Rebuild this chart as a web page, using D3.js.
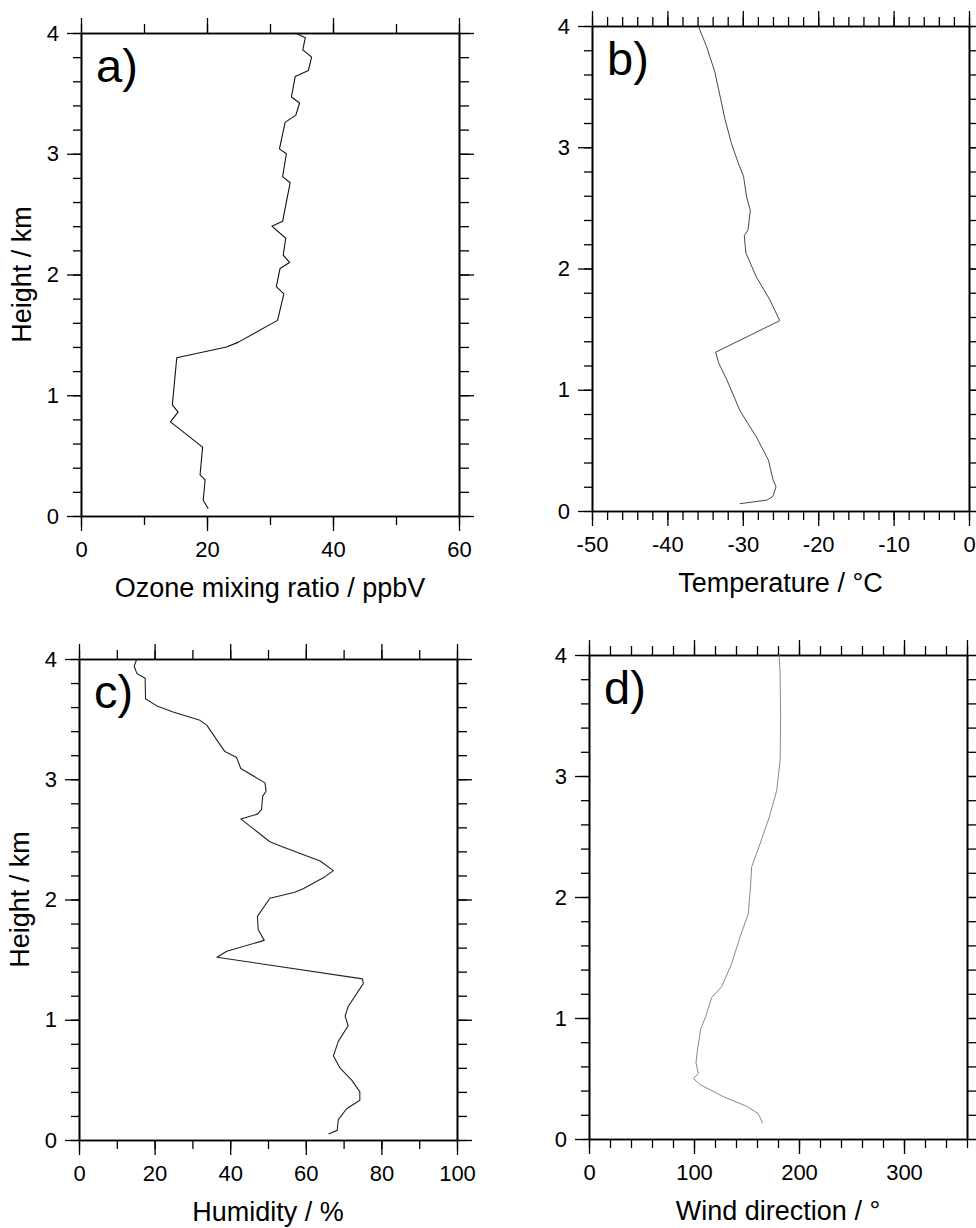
<!DOCTYPE html>
<html>
<head>
<meta charset="utf-8">
<script src="https://cdn.jsdelivr.net/npm/d3@7"></script>
<style>
	body { margin: 0; background: #fff; }
	svg { display: block; font-family: "Liberation Sans", Arial, Helvetica, sans-serif; }
	.domain { stroke: #000; stroke-width: 1.6; }
	.tick line { stroke: #000; stroke-width: 1.3; }
	.tick text { fill: #000; }
</style>
</head>
<body>
<script>

// a) ozone
var ozoneHeight = [4.00, 3.96, 3.86, 3.80, 3.69, 3.64, 3.47, 3.42, 3.32, 3.26, 3.04, 3.00, 2.81, 2.76, 2.44, 2.40, 2.30,
	2.16, 2.10, 2.05, 1.90, 1.84, 1.62, 1.44, 1.40, 1.31, 0.92, 0.86, 0.78, 0.57, 0.34, 0.30, 0.13, 0.06];
var ozoneValue = [34.0, 35.6, 35.2, 36.6, 36.1, 34.0, 33.4, 34.7, 34.1, 32.4, 31.5, 32.6, 32.0, 33.2, 32.0, 30.3, 32.5,
	32.1, 33.1, 31.6, 31.0, 32.2, 31.2, 25.0, 23.1, 15.2, 14.5, 15.4, 14.2, 19.3, 18.9, 19.7, 19.4, 20.2];

// b) temperature
var tempHeight = [4.00, 3.83, 3.62, 3.53, 3.36, 3.24, 3.03, 2.87, 2.76, 2.59, 2.48, 2.32, 2.27, 2.13, 1.93, 1.74, 1.57,
	1.45, 1.31, 1.22, 1.08, 0.83, 0.61, 0.42, 0.26, 0.20, 0.12, 0.09, 0.06];
var tempValue = [-35.9, -34.8, -33.7, -33.4, -32.8, -32.4, -31.5, -30.6, -29.9, -29.5, -29.0, -29.3, -29.8, -29.6, -28.2, -26.4, -25.1,
	-29.0, -33.6, -33.2, -32.1, -30.4, -28.2, -26.6, -26.0, -25.6, -26.0, -26.8, -30.4];

// c) humidity
var humHeight = [4.00, 3.94, 3.88, 3.84, 3.67, 3.61, 3.56, 3.49, 3.45, 3.33, 3.23, 3.18, 3.09, 2.97, 2.90, 2.86, 2.75,
	2.71, 2.67, 2.48, 2.44, 2.32, 2.24, 2.19, 2.09, 2.06, 2.01, 1.86, 1.75, 1.66, 1.57, 1.52, 1.34, 1.30,
	1.11, 1.03, 0.95, 0.82, 0.70, 0.60, 0.50, 0.40, 0.33, 0.26, 0.17, 0.08, 0.05];
var humValue = [15.3, 14.6, 15.3, 17.5, 17.6, 20.6, 24.9, 32.0, 33.8, 36.4, 38.6, 41.7, 42.8, 49.2, 49.5, 48.6, 48.3,
	47.2, 42.8, 50.5, 53.6, 63.8, 67.3, 65.1, 59.3, 57.1, 50.5, 47.2, 47.4, 49.0, 39.1, 36.5, 75.0, 75.2,
	71.2, 70.4, 71.2, 68.6, 67.3, 69.0, 72.1, 74.3, 74.3, 70.8, 68.6, 68.3, 66.0];

// d) wind direction
var windHeight = [4.00, 3.85, 3.49, 3.13, 2.88, 2.66, 2.44, 2.25, 2.11, 1.86, 1.67, 1.45, 1.26, 1.17, 1.01, 0.91,
	0.73, 0.63, 0.54, 0.50, 0.45, 0.35, 0.27, 0.21, 0.13];
var windValue = [181.0, 182.0, 182.5, 182.0, 178.8, 171.7, 162.9, 154.9, 154.0, 151.7, 143.8, 135.9, 126.4, 116.9, 111.0, 106.4,
	103.2, 101.9, 104.1, 99.4, 105.7, 127.9, 150.2, 161.2, 165.4];

var heightTicks = [0, 1, 2, 3, 4];
var ozoneTicks = [0, 20, 40, 60];
var tempTicks = [-50, -40, -30, -20, -10, 0];
var humTicks = [0, 20, 40, 60, 80, 100];
var windTicks = [0, 100, 200, 300];


var CHART = (function(CHART, d3, undefined)
{

	var svg = d3.select("body").append("svg")
		.attr("width", 976)
		.attr("height", 1228);

	var FONT = 22;


	function steps(lo, hi, step)
	{
		var out = [];
		var n = Math.round((hi - lo) / step);
		for (var i = 0; i <= n; i++)
			out.push(+(lo + i * step).toFixed(4));
		return out;
	}


	CHART.drawPanel = function(p)
	{
		var g = svg.append("g")
			.attr("transform", "translate(" + p.left + "," + p.top + ")");

		var x = d3.scaleLinear().domain(p.xDomain).range([0, p.width]);
		var y = d3.scaleLinear().domain([0, 4]).range([p.height, 0]);

		var yMinor = steps(0, 4, 0.2);
		var xMinor = steps(p.xDomain[0], p.xDomain[1], p.xMinor);
		var noLabel = function() { return ""; };

		// left
		g.append("g").call(d3.axisLeft(y).tickValues(yMinor).tickSize(8).tickSizeOuter(0).tickFormat(noLabel));
		g.append("g").call(d3.axisLeft(y).tickValues(heightTicks).tickSize(14).tickSizeOuter(0).tickPadding(8)
			.tickFormat(function(d) { return String(d); }))
			.attr("font-size", FONT).attr("font-family", null);

		// right
		var right = g.append("g").attr("transform", "translate(" + p.width + ",0)");
		right.call(d3.axisRight(y).tickValues(yMinor).tickSize(10).tickSizeOuter(0).tickFormat(noLabel));
		right.append("g").call(d3.axisRight(y).tickValues(heightTicks).tickSize(15).tickSizeOuter(0).tickFormat(noLabel));

		// top
		g.append("g").call(d3.axisTop(x).tickValues(xMinor).tickSize(9).tickSizeOuter(0).tickFormat(noLabel));
		g.append("g").call(d3.axisTop(x).tickValues(p.xMajor).tickSize(15).tickSizeOuter(0).tickFormat(noLabel));

		// bottom
		var bottom = g.append("g").attr("transform", "translate(0," + p.height + ")");
		bottom.call(d3.axisBottom(x).tickValues(xMinor).tickSize(9).tickSizeOuter(0).tickFormat(noLabel));
		bottom.append("g").call(d3.axisBottom(x).tickValues(p.xLabels).tickSize(15).tickSizeOuter(0).tickPadding(10)
			.tickFormat(function(d) { return String(d); }))
			.attr("font-size", FONT).attr("font-family", null);


		var line = d3.line()
			.x(function(d) { return x(d[1]); })
			.y(function(d) { return y(d[0]); });

		g.append("path")
			.datum(d3.zip(p.heights, p.values))
			.attr("fill", "none")
			.attr("stroke", p.stroke)
			.attr("stroke-width", p.strokeWidth)
			.attr("stroke-linejoin", "round")
			.attr("d", line);


		g.append("text")
			.attr("x", 15)
			.attr("y", 49)
			.attr("font-size", 47)
			.text(p.letter);

		g.append("text")
			.attr("x", p.width / 2)
			.attr("y", p.height + 81)
			.attr("text-anchor", "middle")
			.attr("font-size", 27)
			.text(p.xTitle);

		if (p.yTitle)
		{
			g.append("text")
				.attr("transform", "translate(-50," + (p.height / 2) + ") rotate(-90)")
				.attr("text-anchor", "middle")
				.attr("font-size", 27)
				.text(p.yTitle);
		}

		return g;
	}


	CHART.drawPanel({ left: 81, top: 33, width: 378, height: 483,
		xDomain: [0, 60], xMinor: 10, xMajor: ozoneTicks, xLabels: ozoneTicks,
		heights: ozoneHeight, values: ozoneValue, stroke: "#111", strokeWidth: 1.1,
		letter: "a)", xTitle: "Ozone mixing ratio / ppbV", yTitle: "Height / km" });

	CHART.drawPanel({ left: 592, top: 26, width: 377, height: 485,
		xDomain: [-50, 0], xMinor: 2, xMajor: tempTicks, xLabels: tempTicks,
		heights: tempHeight, values: tempValue, stroke: "#333", strokeWidth: 0.9,
		letter: "b)", xTitle: "Temperature / \u00b0C", yTitle: null });

	CHART.drawPanel({ left: 79, top: 659, width: 378, height: 481,
		xDomain: [0, 100], xMinor: 10, xMajor: humTicks, xLabels: humTicks,
		heights: humHeight, values: humValue, stroke: "#222", strokeWidth: 1.1,
		letter: "c)", xTitle: "Humidity / %", yTitle: "Height / km" });

	CHART.drawPanel({ left: 589, top: 655, width: 378, height: 484,
		xDomain: [0, 360], xMinor: 20, xMajor: windTicks.concat([360]), xLabels: windTicks,
		heights: windHeight, values: windValue, stroke: "#888", strokeWidth: 1,
		letter: "d)", xTitle: "Wind direction / \u00b0", yTitle: null });


	return CHART;

}(CHART || {}, d3));

</script>
</body>
</html>
